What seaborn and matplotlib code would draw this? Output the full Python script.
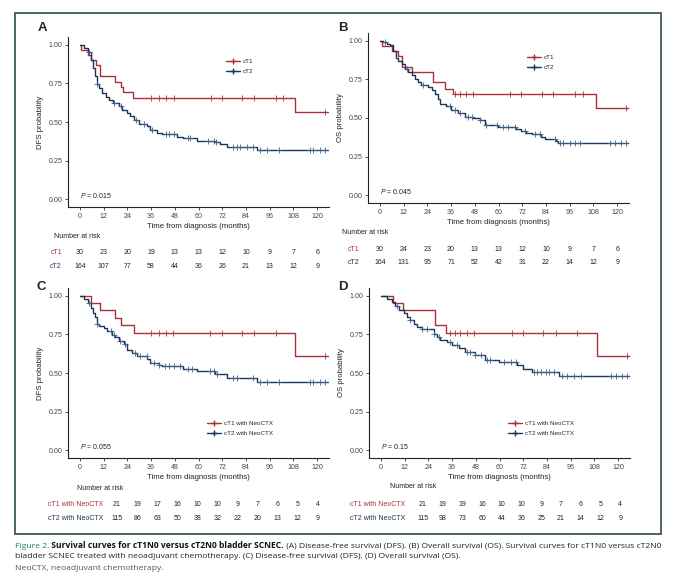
import numpy as np
import matplotlib
matplotlib.use('Agg')
import matplotlib.pyplot as plt
import seaborn as sns
from matplotlib.lines import Line2D
from matplotlib.patches import Rectangle
from matplotlib.transforms import blended_transform_factory

# ---- data (months / survival probability) ----
risk_breaks = [0, 12, 24, 36, 48, 60, 72, 84, 96, 108, 120]

# A: DFS, cT1 vs cT2
a_t1_time = [0, 0.8, 4, 5.7, 8, 10, 18, 21, 22, 27, 109]
a_t1_surv = [1.0, 0.967, 0.933, 0.900, 0.867, 0.797, 0.762, 0.727, 0.691, 0.656, 0.562]
a_t1_cens = [36, 40, 43.5, 47.4, 66.4, 71.8, 82.2, 88.1, 99.2, 102.9, 123.9]
a_t2_time = [0, 2, 4, 5.4, 6.7, 7.6, 8.7, 9.6, 11.3, 13, 14.6, 17, 19.7, 21.3, 24, 25.5, 27.2,
             29.7, 34, 35.6, 39, 41.5, 49, 52.4, 59, 68.4, 71, 74.3, 89.4]
a_t2_surv = [1.0, 0.98, 0.95, 0.90, 0.85, 0.80, 0.745, 0.72, 0.687, 0.665, 0.644, 0.622, 0.605,
             0.579, 0.557, 0.536, 0.515, 0.488, 0.471, 0.449, 0.432, 0.421, 0.40, 0.395, 0.38,
             0.369, 0.356, 0.341, 0.32]
a_t2_cens = [4.5, 8.7, 17.1, 20.8, 28.6, 32.3, 36.5, 43.5, 44.9, 47.4, 54.5, 55.8, 65.0, 67.6,
             68.9, 77.6, 79.3, 81.0, 84.4, 87.4, 91.1, 94.5, 100.8, 116.3, 118.0, 121.3, 123.9]
a_t1_risk = [30, 23, 20, 19, 13, 13, 12, 10, 9, 7, 6]
a_t2_risk = [164, 107, 77, 58, 44, 36, 26, 21, 13, 12, 9]

# B: OS, cT1 vs cT2
b_t1_time = [0, 1, 6, 9, 11, 16, 27, 33, 37, 109.2]
b_t1_surv = [1.0, 0.967, 0.933, 0.90, 0.833, 0.80, 0.733, 0.69, 0.653, 0.5625]
b_t1_cens = [37.9, 40.4, 43.8, 47.2, 65.7, 71.6, 82, 87.6, 98.6, 102.8, 124.7]
b_t2_time = [0, 1.7, 3.4, 5, 6.7, 8, 9.3, 11, 12.6, 14.3, 16, 17.7, 19.4, 21, 24.4, 26.6, 27.8,
             29.5, 30.3, 33.7, 36.2, 39.6, 43, 47.2, 50.6, 53, 59.8, 69, 71.6, 74, 76.7, 81.7,
             83.4, 89.3, 90.2]
b_t2_surv = [1.0, 0.99, 0.98, 0.97, 0.933, 0.89, 0.87, 0.847, 0.82, 0.80, 0.78, 0.754, 0.73,
             0.711, 0.70, 0.68, 0.653, 0.62, 0.588, 0.578, 0.55, 0.534, 0.509, 0.50, 0.49, 0.457,
             0.444, 0.43, 0.416, 0.40, 0.394, 0.375, 0.362, 0.35, 0.341]
b_t2_cens = [2.5, 13.5, 21.9, 35.4, 37.9, 40.5, 44.7, 46.4, 50.6, 53.9, 59.0, 62.4, 64.9, 68.3,
             73.3, 78.4, 80.9, 88.5, 91.0, 92.7, 96.1, 98.6, 101.1, 116.3, 118.8, 122.2, 124.7]
b_t1_risk = [30, 24, 23, 20, 13, 13, 12, 10, 9, 7, 6]
b_t2_risk = [164, 131, 95, 71, 52, 42, 31, 22, 14, 12, 9]

# C: DFS, with NeoCTX
c_t1_time = [0, 5.7, 10, 18, 20.8, 27.2, 109]
c_t1_surv = [1.0, 0.952, 0.905, 0.857, 0.810, 0.762, 0.610]
c_t1_cens = [36, 39.8, 43.5, 46.9, 65.9, 71.8, 82.2, 88.1, 99.2, 123.9]
c_t2_time = [0, 2, 4, 5.4, 6.7, 7.6, 8.7, 9.6, 12.1, 13.8, 16.3, 18, 19.7, 22.2, 23.9, 26.4,
             28.9, 34, 35.6, 39.8, 41.5, 52.4, 59.2, 68.4, 74.3, 89.4]
c_t2_surv = [1.0, 0.98, 0.95, 0.92, 0.89, 0.86, 0.82, 0.806, 0.79, 0.77, 0.748, 0.73, 0.705,
             0.69, 0.651, 0.63, 0.608, 0.59, 0.565, 0.55, 0.543, 0.526, 0.51, 0.495, 0.468, 0.44]
c_t2_cens = [4.5, 8.7, 15.5, 17.1, 20.5, 23.0, 28.1, 30.6, 33.9, 37.3, 39.8, 43.2, 44.9, 47.4,
             50.8, 54.5, 56.6, 65.9, 67.6, 69.2, 77.6, 79.3, 87.7, 91.1, 94.5, 100.8, 116.3,
             118.0, 121.3, 123.9]
c_t1_risk = [21, 19, 17, 16, 10, 10, 9, 7, 6, 5, 4]
c_t2_risk = [115, 86, 63, 50, 38, 32, 22, 20, 13, 12, 9]

# D: OS, with NeoCTX
d_t1_time = [0, 6.1, 11.2, 27.2, 33.1, 109.5]
d_t1_surv = [1.0, 0.952, 0.905, 0.810, 0.762, 0.610]
d_t1_cens = [35.2, 37.7, 40.2, 43.6, 47.0, 66.1, 72.0, 82.1, 88.4, 99.4, 124.7]
d_t2_time = [0, 3, 5.6, 7.3, 9, 11.5, 13.2, 14.9, 16.6, 18.3, 20.8, 26.7, 28.4, 30.1, 33.5, 36,
             39.4, 42.8, 47.8, 52.9, 59.7, 69, 72, 76.6, 90]
d_t2_surv = [1.0, 0.98, 0.96, 0.931, 0.91, 0.89, 0.86, 0.84, 0.82, 0.80, 0.787, 0.752, 0.73,
             0.716, 0.70, 0.683, 0.665, 0.634, 0.618, 0.586, 0.57, 0.55, 0.528, 0.506, 0.478]
d_t2_cens = [8.1, 14.9, 20.8, 23.3, 26.7, 29.2, 35.2, 38.5, 43.6, 45.3, 47.8, 50.4, 53.7, 55.4,
             62.2, 65.6, 68.1, 77.4, 79.1, 80.8, 83.3, 85.0, 87.5, 91.8, 94.3, 97.7, 101.1,
             116.3, 118.8, 122.2, 124.7]
d_t1_risk = [21, 19, 19, 16, 10, 10, 9, 7, 6, 5, 4]
d_t2_risk = [115, 98, 73, 60, 44, 36, 25, 21, 14, 12, 9]

p_values = ['0.015', '0.045', '0.055', '0.15']

# ---- style ----
sns.set_style('ticks')
plt.rcParams['font.family'] = ['Liberation Sans', 'DejaVu Sans']
plt.rcParams['mathtext.fontset'] = 'custom'
plt.rcParams['mathtext.it'] = 'Liberation Sans:italic'
plt.rcParams['mathtext.rm'] = 'Liberation Sans'

RED = '#a8323a'
NAVY = '#1d3658'
NAVY_MARK = '#3f6391'
T_END = 125.5

W, H = 680, 583
fig = plt.figure(figsize=(6.8, 5.83), dpi=100)


def px_box(l, t, r, b):
    return [l / W, 1 - b / H, (r - l) / W, (b - t) / H]


def draw_curve(ax, t, s, c, color, mcolor):
    x = list(t) + [T_END]
    y = list(s) + [s[-1]]
    sns.lineplot(x=x, y=y, drawstyle='steps-post', estimator=None, sort=False,
                 color=color, lw=1.0, ax=ax, legend=False)
    cy = np.array(s)[np.searchsorted(t, c, side='right') - 1]
    sns.scatterplot(x=c, y=cy, marker='+', s=16, color=mcolor, linewidth=0.6,
                    ax=ax, legend=False, zorder=3)


def panel(letter, axbox, letter_xy, curves, ylabel, pval, leg_labels, leg_xy,
          risk, risk_x, nar_xy, rows_y, lab_right):
    ax = fig.add_axes(px_box(*axbox))
    (t1, s1, c1), (t2, s2, c2) = curves
    draw_curve(ax, t1, s1, c1, RED, RED)
    draw_curve(ax, t2, s2, c2, NAVY, NAVY_MARK)
    ax.set_xlim(-6, 126)
    ax.set_ylim(-0.05, 1.05)
    ax.set_xticks(risk_breaks)
    ax.set_yticks([0, 0.25, 0.5, 0.75, 1.0])
    ax.set_yticklabels(['0.00', '0.25', '0.50', '0.75', '1.00'])
    ax.tick_params(labelsize=5.1, length=2.5, width=0.6, pad=1.5, colors='#333333',
                   labelcolor='#444444')
    sns.despine(ax=ax)
    for sp in ['left', 'bottom']:
        ax.spines[sp].set_linewidth(0.8)
        ax.spines[sp].set_color('#222222')
    ax.set_xlabel('Time from diagnosis (months)', fontsize=5.6, color='#222222')
    ax.set_ylabel(ylabel, fontsize=5.6, color='#222222')
    ax.xaxis.set_label_coords(0.5, -0.094)
    ax.yaxis.set_label_coords(-0.093, 0.5)
    ax.text(0, 0.025, '$P$ = ' + pval, fontsize=5.0, color='#222222', va='center')

    handles = [Line2D([], [], color=RED, lw=1.0, marker='+', markersize=4),
               Line2D([], [], color=NAVY, lw=1.0, marker='+', markersize=4)]
    ax.legend(handles=handles, labels=leg_labels, loc='upper left',
              bbox_to_anchor=(leg_xy[0] / W, 1 - (leg_xy[1] - 3.5) / H),
              bbox_transform=fig.transFigure, frameon=False, fontsize=4.5,
              handlelength=2.3, handletextpad=0.45, labelspacing=0.75,
              borderpad=0, borderaxespad=0)

    fig.text(letter_xy[0] / W, 1 - letter_xy[1] / H, letter, fontsize=9.5,
             fontweight='bold', ha='center', va='center')

    # number at risk table
    rt = fig.add_axes(px_box(risk_x[0], rows_y[0] - 5, risk_x[1], rows_y[1] + 5))
    rt.set_xlim(-6, 126)
    rt.axis('off')
    tr = blended_transform_factory(rt.transData, fig.transFigure)
    fig.text(nar_xy[0] / W, 1 - nar_xy[1] / H, 'Number at risk', fontsize=5.0,
             color='#222222', va='center', ha='left')
    for (lab, vals, col), ry in zip(zip(leg_labels, risk, [RED, NAVY]), rows_y):
        fig.text(lab_right / W, 1 - ry / H, lab, fontsize=5.0, color=col,
                 ha='right', va='center')
        for b, v in zip(risk_breaks, vals):
            rt.text(b, 1 - ry / H, str(v), transform=tr, fontsize=5.0,
                    color='#222222', ha='center', va='center')
    return ax


panel('A', (68, 37, 329, 207), (42, 28),
      [(a_t1_time, a_t1_surv, a_t1_cens), (a_t2_time, a_t2_surv, a_t2_cens)],
      'DFS probability', p_values[0], ['cT1', 'cT2'], (226, 62),
      [a_t1_risk, a_t2_risk], (68, 329), (54, 237), (253, 266), 62)
panel('B', (368, 33, 629, 203), (343, 28),
      [(b_t1_time, b_t1_surv, b_t1_cens), (b_t2_time, b_t2_surv, b_t2_cens)],
      'OS probability', p_values[1], ['cT1', 'cT2'], (527, 58),
      [b_t1_risk, b_t2_risk], (368, 629), (342, 233), (250, 262), 359)
panel('C', (68, 288, 329, 458), (41, 287),
      [(c_t1_time, c_t1_surv, c_t1_cens), (c_t2_time, c_t2_surv, c_t2_cens)],
      'DFS probability', p_values[2], ['cT1 with NeoCTX', 'cT2 with NeoCTX'], (207, 424),
      [c_t1_risk, c_t2_risk], (107, 328), (77, 488), (504, 519), 103)
panel('D', (369, 288, 630, 458), (343, 287),
      [(d_t1_time, d_t1_surv, d_t1_cens), (d_t2_time, d_t2_surv, d_t2_cens)],
      'OS probability', p_values[3], ['cT1 with NeoCTX', 'cT2 with NeoCTX'], (508, 424),
      [d_t1_risk, d_t2_risk], (413, 630), (390, 487), (504, 518), 405)

# green frame around the figure panels
fig.patches.append(Rectangle((15 / W, 1 - 534 / H), (661 - 15) / W, (534 - 13) / H,
                             transform=fig.transFigure, fill=False,
                             edgecolor='#3b5e4f', lw=1.3))

# caption
renderer = fig.canvas.get_renderer()
cap_font = ['Open Sans', 'DejaVu Sans']
cap_size = 6.1


def caption_line(y, parts):
    x = 15
    for txt, color, weight in parts:
        t = fig.text(x / W, 1 - y / H, txt, fontsize=cap_size, color=color,
                     fontweight=weight, family=cap_font, ha='left', va='center')
        x = t.get_window_extent(renderer=renderer).x1


caption_line(546, [('Figure 2.', '#1f7a6e', 'normal'),
                   (' Survival curves for cT1N0 versus cT2N0 bladder SCNEC.', '#111111', 'bold'),
                   (' (A) Disease-free survival (DFS). (B) Overall survival (OS). Survival curves '
                    'for cT1N0 versus cT2N0', '#222222', 'normal')])
caption_line(557, [('bladder SCNEC treated with neoadjuvant chemotherapy. (C) Disease-free '
                    'survival (DFS). (D) Overall survival (OS).', '#222222', 'normal')])
caption_line(569, [('NeoCTX, neoadjuvant chemotherapy.', '#555555', 'normal')])

fig.savefig('out.png', dpi=100)
